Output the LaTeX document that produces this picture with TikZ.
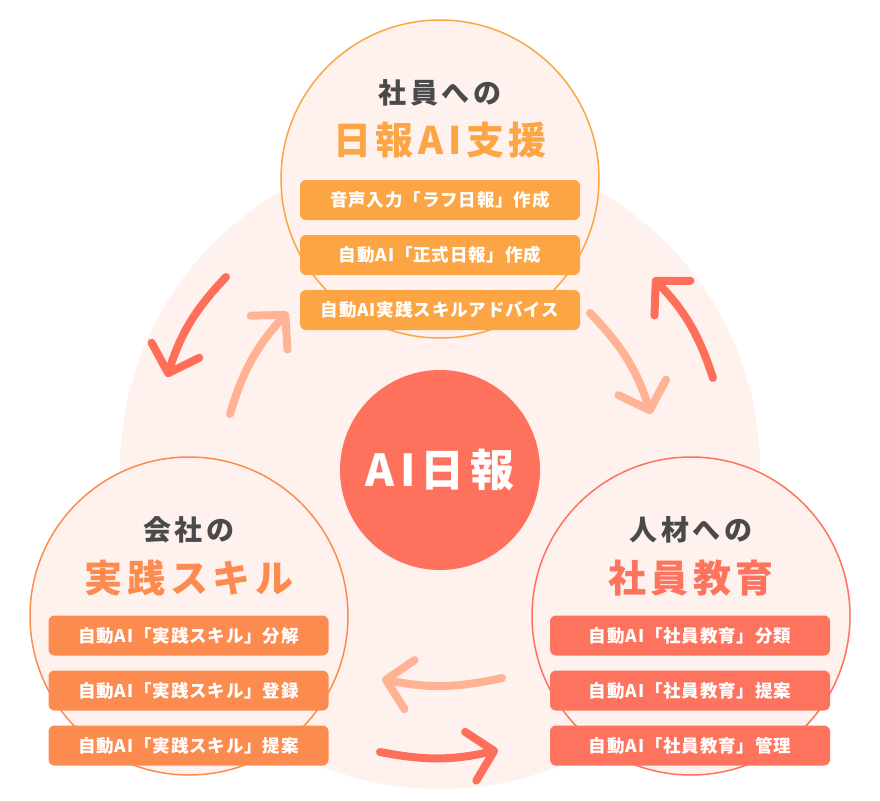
\documentclass[tikz,border=0pt]{standalone}
\usepackage{fontspec}
\usetikzlibrary{arrows.meta}
\newfontfamily\jpfont[LetterSpace=5]{Noto Sans CJK JP}
\newfontfamily\jpwide[LetterSpace=12]{Noto Sans CJK JP}
\definecolor{bgpink}{HTML}{FEF1EE}
\definecolor{dailyc}{HTML}{FCA544}
\definecolor{skillc}{HTML}{FC8B50}
\definecolor{educ}{HTML}{FD735D}
\definecolor{corec}{HTML}{FE715C}
\definecolor{arrowdark}{HTML}{FE6F5A}
\definecolor{arrowlight}{HTML}{FFB394}
\definecolor{headgray}{HTML}{4A4A4A}
\tikzset{
  pillar/.style={circle, draw=#1, line width=1.5pt, fill=bgpink, minimum size=318pt, inner sep=0pt},
  taskbox/.style={fill=#1, rounded corners=6pt, minimum width=280pt, minimum height=40pt, inner sep=0pt,
    text=white, font=\jpfont\bfseries\fontsize{17.5}{18}\selectfont},
  subhead/.style={text=headgray, font=\jpwide\bfseries\fontsize{28}{30}\selectfont},
  mainhead/.style={text=#1, font=\jpwide\bfseries\fontsize{38}{40}\selectfont},
  cyclearrow/.style={draw=#1, line width=8pt, line cap=round,
    -{Straight Barb[round, length=24pt, width=50pt]}},
}
\begin{document}
\begin{tikzpicture}[x=1pt, y=-1pt]
  \useasboundingbox (0,0) rectangle (880,800);
  \fill[bgpink] (440,469) circle[radius=320pt];

  % three pillars
  \node[pillar=dailyc] (daily) at (440,179) {};
  \node[pillar=skillc] (skill) at (189,616) {};
  \node[pillar=educ] (edu) at (691,616) {};

  \node[circle, fill=corec, minimum size=200pt, inner sep=0pt, text=white,
    font=\jpwide\bfseries\fontsize{44}{46}\selectfont] (core) at (440,470) {AI日報};

  % headings
  \node[subhead] (dailysub) at (440,93) {社員への};
  \node[mainhead=dailyc] (dailymain) at (440,140) {日報AI支援};
  \node[subhead] (skillsub) at (189,530) {会社の};
  \node[mainhead=skillc] (skillmain) at (189,578) {実践スキル};
  \node[subhead] (edusub) at (691,530) {人材への};
  \node[mainhead=educ] (edumain) at (691,578) {社員教育};

  % task boxes
  \foreach \i/\y/\t in {1/200/音声入力「ラフ日報」作成, 2/255/自動AI「正式日報」作成, 3/310/自動AI実践スキルアドバイス}
    \node[taskbox=dailyc] (daily\i) at (440,\y) {\t};
  \foreach \i/\y/\t in {1/635.5/分解, 2/690.5/登録, 3/745.5/提案}
    \node[taskbox=skillc] (skill\i) at (188.5,\y) {自動AI「実践スキル」\t};
  \foreach \i/\y/\t in {1/635.5/分類, 2/690.5/提案, 3/745.5/管理}
    \node[taskbox=educ] (edu\i) at (690,\y) {自動AI「社員教育」\t};

  % cycle arrows
  \foreach \i/\xa/\ya/\xb/\yb/\b/\c in {
      1/226/277/167/377/-13/arrowdark, 2/230/414/288/312/13/arrowlight,
      3/713/378/653/278/-13/arrowdark, 4/590/313/651/414/13/arrowlight,
      5/502/678/382/679/12/arrowlight, 6/380/752/498/750/-12/arrowdark}{
    \coordinate (from\i) at (\xa,\ya);
    \coordinate (to\i) at (\xb,\yb);
    \draw[cyclearrow=\c] (from\i) to[bend left=\b] (to\i);
  }
\end{tikzpicture}
\end{document}
